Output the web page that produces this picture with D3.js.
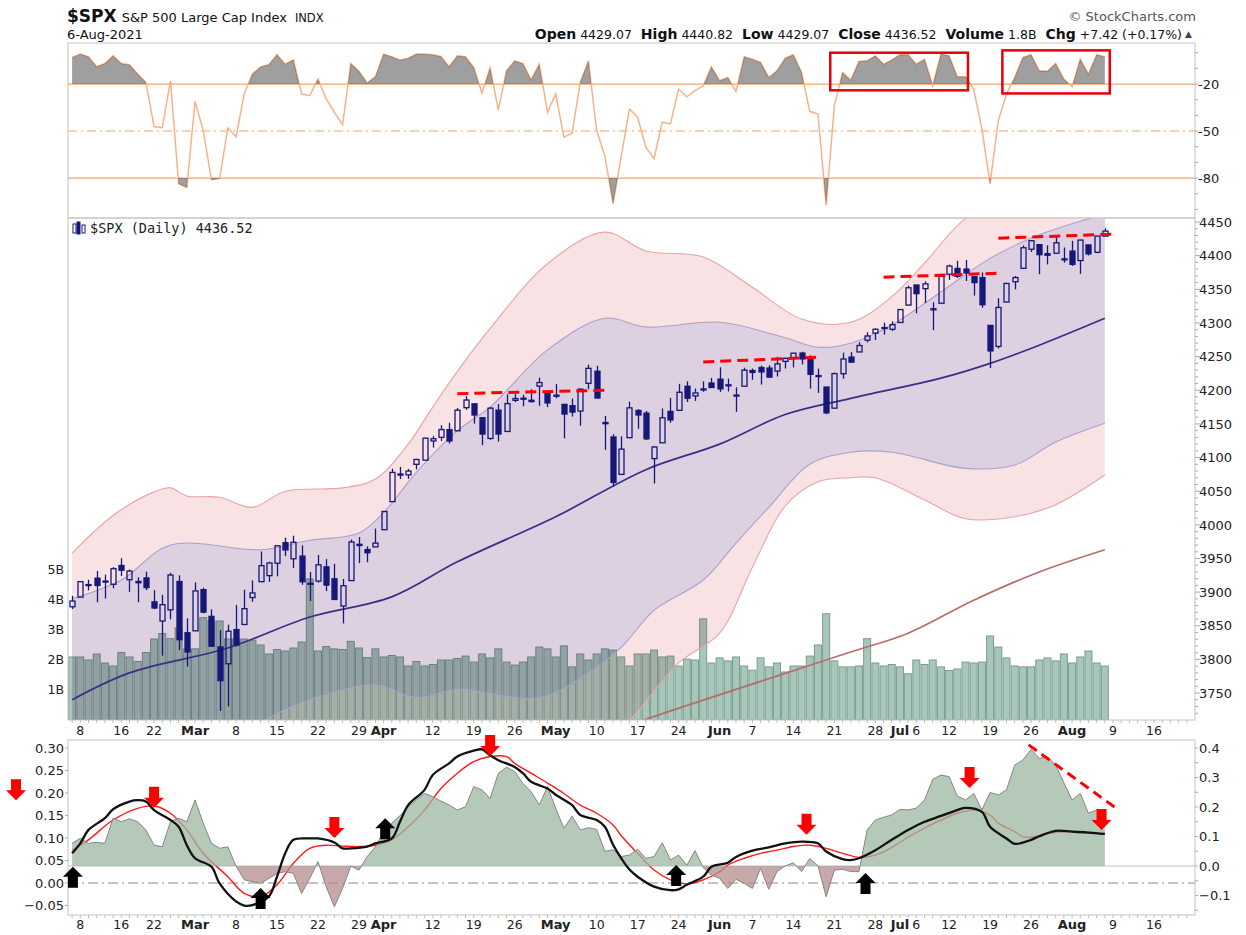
<!DOCTYPE html>
<html><head><meta charset="utf-8">
<script src="https://cdn.jsdelivr.net/npm/d3@7"></script>
<style>body{margin:0;background:#fff}svg{display:block}</style>
</head><body><svg id="c" width="1246" height="935"></svg>
<script>
// ---------------- DATA ----------------
const dates = [
"2021-02-05","2021-02-08","2021-02-09","2021-02-10","2021-02-11","2021-02-12","2021-02-16","2021-02-17","2021-02-18","2021-02-19","2021-02-22","2021-02-23","2021-02-24","2021-02-25","2021-02-26",
"2021-03-01","2021-03-02","2021-03-03","2021-03-04","2021-03-05","2021-03-08","2021-03-09","2021-03-10","2021-03-11","2021-03-12","2021-03-15","2021-03-16","2021-03-17","2021-03-18","2021-03-19","2021-03-22","2021-03-23","2021-03-24","2021-03-25","2021-03-26","2021-03-29","2021-03-30","2021-03-31",
"2021-04-01","2021-04-05","2021-04-06","2021-04-07","2021-04-08","2021-04-09","2021-04-12","2021-04-13","2021-04-14","2021-04-15","2021-04-16","2021-04-19","2021-04-20","2021-04-21","2021-04-22","2021-04-23","2021-04-26","2021-04-27","2021-04-28","2021-04-29","2021-04-30",
"2021-05-03","2021-05-04","2021-05-05","2021-05-06","2021-05-07","2021-05-10","2021-05-11","2021-05-12","2021-05-13","2021-05-14","2021-05-17","2021-05-18","2021-05-19","2021-05-20","2021-05-21","2021-05-24","2021-05-25","2021-05-26","2021-05-27","2021-05-28",
"2021-06-01","2021-06-02","2021-06-03","2021-06-04","2021-06-07","2021-06-08","2021-06-09","2021-06-10","2021-06-11","2021-06-14","2021-06-15","2021-06-16","2021-06-17","2021-06-18","2021-06-21","2021-06-22","2021-06-23","2021-06-24","2021-06-25","2021-06-28","2021-06-29","2021-06-30",
"2021-07-01","2021-07-02","2021-07-06","2021-07-07","2021-07-08","2021-07-09","2021-07-12","2021-07-13","2021-07-14","2021-07-15","2021-07-16","2021-07-19","2021-07-20","2021-07-21","2021-07-22","2021-07-23","2021-07-26","2021-07-27","2021-07-28","2021-07-29","2021-07-30",
"2021-08-02","2021-08-03","2021-08-04","2021-08-05","2021-08-06"];
const futureDates = ["2021-08-09","2021-08-10","2021-08-11","2021-08-12","2021-08-13","2021-08-16","2021-08-17","2021-08-18","2021-08-19","2021-08-20"];

const openP = [3878.30,3892.59,3910.49,3920.78,3916.40,3911.65,3939.61,3918.50,3915.86,3921.16,3885.55,3857.07,3873.71,3915.80,3839.66,
3842.51,3903.64,3863.99,3818.53,3793.58,3844.39,3851.93,3891.99,3915.54,3924.52,3942.96,3973.59,3949.57,3953.50,3913.14,3916.48,3937.60,3919.93,3879.34,3917.12,3969.31,3963.34,3967.25,
3992.78,4034.44,4075.57,4074.29,4089.95,4096.11,4124.71,4130.10,4141.58,4139.76,4174.14,4179.80,4159.18,4128.42,4170.46,4138.78,4185.03,4188.25,4185.14,4206.14,4198.10,
4191.98,4179.04,4177.06,4169.14,4210.34,4228.29,4150.34,4130.55,4074.99,4129.58,4169.92,4165.94,4098.45,4121.97,4168.61,4170.16,4205.94,4191.59,4201.94,4210.77,
4216.52,4206.82,4191.43,4206.05,4229.34,4233.81,4232.99,4228.56,4242.90,4248.31,4255.28,4248.87,4220.37,4204.78,4173.40,4224.61,4249.27,4256.97,4274.45,4284.90,4293.21,4290.65,
4300.73,4326.60,4356.46,4351.01,4321.07,4329.38,4372.41,4381.07,4380.11,4369.02,4367.43,4296.40,4265.11,4331.13,4361.27,4381.20,4409.58,4416.38,4402.95,4403.59,4395.12,
4406.86,4392.74,4415.95,4405.03,4429.07];
const highP = [3894.56,3915.77,3918.35,3931.50,3925.99,3937.23,3950.43,3933.61,3921.98,3930.41,3902.92,3895.98,3928.65,3925.02,3861.08,
3914.50,3906.41,3874.47,3843.67,3851.69,3881.06,3903.76,3917.35,3960.27,3944.99,3970.08,3981.04,3983.87,3969.62,3930.12,3955.31,3949.13,3942.08,3919.54,3978.19,3981.83,3968.01,3994.41,
4020.63,4083.42,4086.23,4083.13,4098.19,4129.48,4131.76,4148.00,4151.69,4173.49,4191.31,4180.81,4159.18,4175.02,4179.57,4194.17,4194.19,4193.35,4201.53,4218.78,4198.10,
4209.39,4179.04,4187.72,4202.70,4238.04,4236.39,4162.04,4134.73,4131.58,4183.13,4171.92,4169.15,4116.93,4172.80,4188.72,4209.52,4213.42,4202.61,4213.38,4218.36,
4234.12,4217.37,4204.39,4233.45,4232.34,4236.74,4237.09,4249.74,4248.38,4255.59,4257.16,4251.89,4232.29,4204.78,4226.24,4255.84,4256.60,4271.28,4286.12,4292.14,4300.52,4302.43,
4320.66,4355.43,4356.46,4361.88,4330.88,4371.60,4386.68,4392.37,4393.68,4369.02,4375.09,4296.40,4336.84,4359.70,4369.87,4415.18,4422.73,4416.38,4415.47,4429.97,4412.25,
4422.18,4423.79,4416.17,4429.10,4440.82];
const lowP = [3874.93,3892.59,3902.64,3884.94,3890.39,3905.78,3923.85,3900.43,3885.03,3903.07,3874.71,3805.59,3859.60,3814.04,3789.54,
3842.51,3868.57,3818.86,3723.34,3730.19,3819.25,3851.93,3885.73,3915.54,3915.21,3923.54,3953.44,3935.74,3910.86,3886.75,3914.16,3901.57,3889.07,3853.50,3917.12,3943.25,3944.35,3966.98,
3992.78,4034.44,4068.14,4068.31,4082.54,4095.51,4114.82,4124.43,4120.87,4139.76,4170.75,4150.47,4118.38,4126.35,4123.69,4138.78,4182.36,4176.22,4181.78,4176.81,4174.85,
4188.03,4128.59,4160.94,4147.33,4201.64,4188.13,4111.53,4056.88,4074.99,4129.58,4142.69,4125.99,4061.41,4121.97,4151.72,4170.16,4182.52,4184.11,4197.78,4203.57,
4197.59,4198.27,4167.93,4206.05,4215.66,4208.41,4218.74,4220.34,4232.25,4234.07,4238.35,4202.45,4196.05,4164.40,4173.40,4217.27,4241.43,4256.97,4271.16,4274.67,4282.68,4287.96,
4300.73,4326.60,4314.37,4329.79,4289.37,4329.38,4364.03,4366.92,4362.36,4340.70,4322.53,4233.13,4262.05,4331.13,4350.06,4381.20,4405.45,4372.51,4387.01,4403.59,4389.65,
4384.81,4373.00,4400.23,4403.59,4429.07];
const closeP = [3886.83,3915.59,3911.23,3909.88,3916.38,3934.83,3932.59,3931.33,3913.97,3906.71,3876.50,3881.37,3925.43,3829.34,3811.15,
3901.82,3870.29,3819.72,3768.47,3841.94,3821.35,3875.44,3898.81,3939.34,3943.34,3968.94,3962.71,3974.12,3915.46,3913.10,3940.59,3910.52,3889.14,3909.52,3974.54,3971.09,3958.55,3972.89,
4019.87,4077.91,4073.94,4079.95,4097.17,4128.80,4127.99,4141.59,4124.66,4170.42,4185.47,4163.26,4134.94,4173.42,4134.98,4180.17,4187.62,4186.72,4183.18,4211.47,4181.17,
4192.66,4164.66,4167.59,4201.62,4232.60,4188.43,4152.10,4063.04,4112.50,4173.85,4163.29,4127.83,4115.68,4159.12,4155.86,4197.05,4188.13,4195.99,4200.88,4204.11,
4202.04,4208.12,4192.85,4229.89,4226.52,4227.26,4219.55,4239.18,4247.44,4255.15,4246.59,4223.70,4221.86,4166.45,4224.79,4246.44,4241.84,4266.49,4280.70,4290.61,4291.80,4297.50,
4319.94,4352.34,4343.54,4358.13,4320.82,4369.55,4384.63,4369.21,4374.30,4360.03,4327.16,4258.49,4323.06,4358.69,4367.48,4411.79,4422.30,4401.46,4400.64,4419.15,4395.26,
4387.16,4423.15,4402.66,4429.10,4436.52];
// volume, billions
const volume = [2.1,2.1,2.0,2.2,1.9,1.8,2.25,2.1,1.95,2.25,2.7,2.88,2.71,3.07,2.37,2.37,3.41,3.3,3.3,2.7,2.7,2.7,2.66,2.5,2.2,2.35,2.3,2.4,2.6,4.7,2.3,2.45,2.37,2.35,2.62,2.4,2.08,2.37,2.1,2.15,2.1,1.8,1.95,1.8,1.85,2.0,2.0,2.05,
2.13,1.93,2.2,2.07,2.37,1.93,1.83,1.93,2.1,2.43,2.37,2.1,2.47,1.77,2.2,2.0,2.2,2.37,2.33,2.1,1.8,2.2,2.2,2.33,2.1,2.13,1.8,2.03,2.0,3.37,1.9,2.07,1.97,2.1,1.8,1.66,2.07,1.77,1.9,1.6,1.8,1.8,2.13,2.5,3.54,1.97,1.77,
1.77,1.8,2.71,1.9,1.8,1.85,1.77,1.54,2.0,1.85,2.0,1.77,1.65,1.7,1.93,1.9,1.93,2.8,2.43,2.07,1.8,1.77,1.77,2.0,2.07,1.97,2.2,1.9,2.1,2.3,1.9,1.8];
// Williams %R
const willR = [-3.0,-0.9,-2.6,-9.0,-6.9,-2.0,-6.9,-7.7,-13.6,-18.9,-47.1,-47.9,-17.9,-83.6,-86.1,-31.0,-49.7,-81.1,-80.4,-48.0,-53.8,-26.4,-13.6,-9.0,-7.7,-1.3,-7.3,-4.5,-26.4,-27.4,-16.8,-29.5,-38.0,-46.1,-6.9,-11.9,-19.4,-15.3,-0.9,-2.6,-4.7,-3.5,-0.9,-0.9,-1.3,-2.4,-9.0,-2.0,-2.6,-9.4,-25.7,-9.8,-36.5,-11.5,-5.2,-6.9,-17.2,-7.3,-38.0,-26.4,-53.9,-51.4,-18.9,-5.2,-49.7,
-66,-96.5,-66,-35.9,-41.2,-60.3,-67.7,-44.4,-45.4,-23.2,-28.1,-24.2,-21.1,-9.0,-17.9,-15.8,-24.7,-2.6,-4.1,-6.2,-15.8,-11.5,-3.5,-1.3,-12.6,-37.4,-39.1,-97.4,-33.8,-12.6,-17.5,-5.6,-5.2,-2.0,-7.3,-4.7,-1.3,-1.3,-7.3,-4.1,-21.1,-0.9,-2.0,-15.3,-15.3,-23.2,-48.6,-83.6,-43.3,-26.4,-15.8,-3.0,-1.3,-11.5,-11.9,-6.9,-16.8,-21.7,-4.1,-13.6,-1.3,-2.6];
// lower indicator histogram (right axis)
const histo = [0.077,0.094,0.077,0.08,0.077,0.162,0.15,0.16,0.15,0.122,0.071,0.065,0.15,0.162,0.15,0.224,0.145,0.077,0.06,0.065,0.0,-0.047,-0.053,-0.059,-0.042,-0.025,-0.019,-0.025,-0.093,-0.042,0.015,-0.07,-0.138,-0.076,0.0,-0.014,0.032,0.065,
0.116,0.145,0.17,0.2,0.224,0.246,0.235,0.22,0.207,0.19,0.201,0.269,0.258,0.229,0.314,0.335,0.32,0.28,0.252,0.207,0.269,0.196,0.128,0.169,0.122,0.13,0.124,0.05,0.055,
0.032,0.037,0.057,0.026,0.032,0.079,0.02,0.037,0.003,0.052,-0.005,-0.031,-0.042,-0.076,-0.045,-0.059,-0.076,-0.008,-0.079,-0.019,0.0,0.011,-0.019,0.026,0.0,-0.104,-0.014,-0.011,-0.019,-0.019,
0.122,0.156,0.165,0.173,0.192,0.19,0.196,0.224,0.294,0.308,0.303,0.237,0.224,0.246,0.19,0.249,0.241,0.258,0.342,0.359,0.395,0.365,0.37,0.342,0.282,0.224,0.246,0.179,0.19,0.19];
// lower indicator lines (left axis): [trading-day number, value]
const blackLine = [[0,0.066],[1,0.088],[2,0.118],[4,0.144],[5,0.164],[7,0.181],[8,0.184],[9,0.181],[10,0.162],[12,0.14],[13,0.125],[14,0.084],[15,0.055],[17,0.036],[18,-0.001],[20,-0.041],[21,-0.05],[22,-0.049],[24,-0.03],[25,0.014],[26,0.066],[27,0.096],[29,0.099],[30,0.099],[32,0.09],[33,0.077],[34,0.077],[36,0.081],[37,0.088],[39,0.099],[40,0.136],[41,0.173],[43,0.207],[44,0.24],[46,0.266],[47,0.281],[49,0.294],[50,0.297],[51,0.284],[52,0.273],[54,0.258],[55,0.244],[56,0.225],[58,0.21],[59,0.196],[61,0.173],[62,0.151],[64,0.14],[65,0.125],[66,0.085],[67,0.055],[68,0.03],[69,0.014],[71,-0.008],[73,-0.016],[74,-0.014],[75,-0.004],[77,0.014],[78,0.036],[80,0.045],[81,0.058],[83,0.072],[85,0.079],[87,0.088],[89,0.092],[91,0.088],[92,0.07],[94,0.053],[95,0.051],[96,0.055],[98,0.073],[100,0.096],[102,0.118],[104,0.136],[106,0.149],[108,0.162],[109,0.167],[111,0.158],[112,0.125],[114,0.099],[115,0.087],[117,0.096],[118,0.104],[120,0.116],[122,0.114],[124,0.112],[126,0.109]];
const redLine = [[0,0.073],[2,0.096],[5,0.14],[8,0.166],[10,0.171],[12,0.155],[14,0.118],[16,0.066],[19,0.014],[21,-0.023],[23,-0.03],[25,-0.004],[27,0.044],[29,0.077],[31,0.084],[33,0.082],[35,0.081],[37,0.084],[39,0.096],[41,0.125],[43,0.162],[45,0.21],[47,0.244],[49,0.27],[51,0.281],[53,0.281],[54,0.266],[56,0.244],[58,0.222],[60,0.199],[62,0.173],[64,0.155],[66,0.129],[67,0.105],[69,0.066],[71,0.029],[73,0.007],[75,-0.002],[77,0.007],[79,0.025],[80,0.04],[82,0.055],[84,0.066],[86,0.073],[88,0.081],[90,0.084],[92,0.077],[94,0.066],[96,0.057],[98,0.062],[100,0.079],[102,0.102],[104,0.122],[106,0.14],[108,0.155],[110,0.162],[112,0.151],[113,0.133],[115,0.114],[116,0.103],[117,0.102],[119,0.11],[121,0.114],[125,0.112]];
// price overlays: [trading-day number, price]
const outerUpper = [[0,3958],[5,4014],[10,4049],[12,4055],[14,4043],[18,4041],[22,4026],[26,4050],[33,4055],[37,4068],[41,4120],[44,4175],[47,4228],[51,4292],[58,4388],[65,4435],[70,4407],[77,4398],[83,4353],[89,4306],[95,4301],[100,4339],[104,4389],[109,4455],[115,4490],[120,4515],[126,4540]];
const innerUpper = [[0,3890],[6,3918],[12,3970],[23,3963],[29,3977],[35,3988],[38,4018],[42,4078],[47,4140],[51,4175],[58,4260],[65,4307],[70,4294],[79,4301],[87,4278],[91,4264],[95,4270],[100,4297],[106,4346],[112,4396],[118,4431],[124,4455],[126,4462]];
const middle = [[0,3740],[7,3780],[19,3817],[29,3863],[39,3893],[47,3945],[59,4012],[70,4082],[79,4120],[87,4164],[95,4188],[106,4218],[112,4240],[118,4267],[126,4307]];
const innerLower = [[0,3592],[12,3614],[20,3680],[24,3713],[29,3740],[37,3762],[42,3743],[47,3755],[57,3743],[63,3780],[67,3818],[71,3873],[77,3918],[81,3973],[85,4026],[90,4090],[95,4108],[100,4108],[109,4084],[115,4089],[120,4123],[126,4151]];
const outerLower = [[0,3520],[20,3560],[37,3690],[47,3657],[58,3619],[63,3660],[68,3710],[74,3795],[79,3839],[83,3937],[87,4028],[91,4064],[95,4070],[98,4070],[104,4037],[109,4009],[115,4012],[120,4030],[126,4074]];
const ma200 = [[60,3667],[70,3711],[95,3811],[102,3839],[110,3888],[118,3930],[126,3963]];
const resistance = [[[47,4195],[65,4200]],[[77,4242],[91,4249]],[[99,4368],[113,4374]],[[113,4426],[127,4432]]];
// annotations
const wrBoxes = [[92.5,109.3,0,-24],[113.5,126.6,1.5,-26]];
const downArrows = [[10,0.167],[32,0.10],[51,0.282],[89.6,0.107],[109.5,0.211],[125.6,0.118]];
const upArrows = [[0.1,0.036],[23,-0.011],[38.2,0.144],[73.7,0.04],[96.8,0.022]];
const diagDash = [[116.7,0.307],[127.7,0.162]];
// axis ticks
const tickDates = ["2021-02-08","2021-02-16","2021-02-22","2021-03-01","2021-03-08","2021-03-15","2021-03-22","2021-03-29","2021-04-01","2021-04-12","2021-04-19","2021-04-26","2021-05-03","2021-05-10","2021-05-17","2021-05-24","2021-06-01","2021-06-07","2021-06-14","2021-06-21","2021-06-28","2021-07-01","2021-07-06","2021-07-12","2021-07-19","2021-07-26","2021-08-02","2021-08-09","2021-08-16"];
const tickLabels = ["8","16","22","Mar","8","15","22","29","Apr","12","19","26","May","10","17","24","Jun","7","14","21","28","Jul","6","12","19","26","Aug","9","16"];
const priceTicks = [4450,4400,4350,4300,4250,4200,4150,4100,4050,4000,3950,3900,3850,3800,3750];
const volTicks = [1,2,3,4,5];
const wrTicks = [-20,-50,-80];
const leftTicks = [0.30,0.25,0.20,0.15,0.10,0.05,0.00,-0.05];
const rightTicks = [0.4,0.3,0.2,0.1,0.0,-0.1];
const stats = [["Open","4429.07"],["High","4440.82"],["Low","4429.07"],["Close","4436.52"],["Volume","1.8B"],["Chg","+7.42 (+0.17%)"]];

// ---------------- CHART ----------------
const FONT = "'DejaVu Sans', sans-serif";
const svg = d3.select("#c").attr("font-family", FONT);
const allDates = dates.concat(futureDates);
const dayOf = d => allDates.indexOf(d);
const N = dates.length;
const PL = 68, PR = 1195;
const x = d3.scaleLinear().domain([-0.5, 137]).range([PL, PR]);
const yP = d3.scaleLinear().domain([3710, 4456]).range([720, 218]);
const yV = d3.scaleLinear().domain([0, 16.73]).range([720, 218]);
const yW = d3.scaleLinear().domain([-105.5, 6.2]).range([218, 43]);
const yL = d3.scaleLinear().domain([-0.0711, 0.3178]).range([915, 740]);
const yR = d3.scaleLinear().domain([-0.166, 0.427]).range([915, 740]);

svg.append("rect").attr("width",1246).attr("height",935).attr("fill","#fff");
const defs = svg.append("defs");
function clip(id, x0, y0, x1, y1){ defs.append("clipPath").attr("id",id).append("rect").attr("x",x0).attr("y",y0).attr("width",x1-x0).attr("height",y1-y0); }
clip("cTop", PL, 43, PR, 218);
clip("cMain", PL, 218, PR, 720);
clip("cBot", PL, 740, PR, 915);
clip("cAbove20", PL, 43, PR, yW(-20));
clip("cBelow80", PL, yW(-80), PR, 218);
clip("cPos", PL, 740, PR, yR(0));
clip("cNeg", PL, yR(0), PR, 915);

// ---- header
const hdr = svg.append("g").attr("fill","#111");
const t1 = hdr.append("text").attr("x",67).attr("y",22);
t1.append("tspan").attr("font-weight","bold").attr("font-size",17).text("$SPX");
t1.append("tspan").attr("font-size",13).attr("dx",5).text("S&P 500 Large Cap Index");
t1.append("tspan").attr("font-size",11.5).attr("dx",8).text("INDX");
hdr.append("text").attr("x",67).attr("y",39).attr("font-size",13).text("6-Aug-2021");
const t2 = hdr.append("text").attr("x",1182).attr("y",39).attr("text-anchor","end");
stats.forEach(([k,v],j)=>{
  t2.append("tspan").attr("font-weight","bold").attr("font-size",14).attr("dx", j?9:0).text(k);
  t2.append("tspan").attr("font-size",12.5).attr("dx",4).text(v);
});
hdr.append("text").attr("x",1185).attr("y",37).attr("font-size",9).attr("fill","#444").text("▲");
hdr.append("text").attr("x",1196).attr("y",21).attr("text-anchor","end").attr("font-size",13).attr("fill","#555").text("© StockCharts.com");

// ---- top panel (Williams %R)
const topG = svg.append("g");
topG.append("g").attr("clip-path","url(#cTop)").call(g=>{
  [-20,-80].forEach(v=>g.append("line").attr("x1",PL).attr("x2",PR).attr("y1",yW(v)).attr("y2",yW(v)).attr("stroke","#f6a468").attr("stroke-width",1.3));
  g.append("line").attr("x1",PL).attr("x2",PR).attr("y1",yW(-50)).attr("y2",yW(-50)).attr("stroke","#f6a468").attr("stroke-width",1.1).attr("stroke-dasharray","9,4,2,4");
  const ln = d3.line().x((d,i)=>x(i)).y(d=>yW(d));
  g.append("path").attr("d",ln(willR)).attr("fill","none").attr("stroke","#f9b288").attr("stroke-width",1.5);
  const a1 = d3.area().x((d,i)=>x(i)).y0(yW(-20)).y1(d=>yW(d));
  g.append("path").attr("d",a1(willR)).attr("clip-path","url(#cAbove20)").attr("fill","rgb(64,64,64)").attr("fill-opacity",0.5);
  const a2 = d3.area().x((d,i)=>x(i)).y0(yW(-80)).y1(d=>yW(d));
  g.append("path").attr("d",a2(willR)).attr("clip-path","url(#cBelow80)").attr("fill","rgb(64,64,64)").attr("fill-opacity",0.5);
});
wrBoxes.forEach(b=>topG.append("rect").attr("x",x(b[0])).attr("y",yW(b[2])).attr("width",x(b[1])-x(b[0])).attr("height",yW(b[3])-yW(b[2]))
  .attr("fill","none").attr("stroke","#e8000b").attr("stroke-width",2.5));
topG.append("rect").attr("x",PL).attr("y",43).attr("width",PR-PL).attr("height",175).attr("fill","none").attr("stroke","#c4c4c4");
wrTicks.forEach(v=>topG.append("text").attr("x",1198).attr("y",yW(v)).attr("dy","0.36em").attr("font-size",13).attr("fill","#222").text(v));
d3.range(-100,1,10).forEach(v=>topG.append("line").attr("x1",PR).attr("x2",PR+3).attr("y1",yW(v)).attr("y2",yW(v)).attr("stroke","#aaa"));

// ---- main panel
const mainG = svg.append("g");
const mg = mainG.append("g").attr("clip-path","url(#cMain)");
mg.append("g").selectAll("rect").data(volume).join("rect")
  .attr("x",(d,i)=>x(i)-3.5).attr("width",7).attr("y",d=>yV(d)).attr("height",d=>720-yV(d))
  .attr("fill","#a7c7bb").attr("stroke","#7d9d92").attr("stroke-width",1);
const bl = d3.line().x(d=>x(d[0])).y(d=>yP(d[1])).curve(d3.curveCatmullRom.alpha(0.5));
function band(up, lo){ return bl(up) + "L" + bl(lo.slice().reverse()).slice(1) + "Z"; }
mg.append("path").attr("d",band(outerUpper, outerLower)).attr("fill","#f8e2e4").style("mix-blend-mode","multiply");
mg.append("path").attr("d",band(innerUpper, innerLower)).attr("fill","#e4ebfc").style("mix-blend-mode","multiply");
[outerUpper, outerLower].forEach(s=>mg.append("path").attr("d",bl(s)).attr("fill","none").attr("stroke","#eaa2aa").attr("stroke-width",1.1));
[innerUpper, innerLower].forEach(s=>mg.append("path").attr("d",bl(s)).attr("fill","none").attr("stroke","#ab9fcd").attr("stroke-width",1.1));
mg.append("path").attr("d",bl(middle)).attr("fill","none").attr("stroke","#3d2c88").attr("stroke-width",1.7);
mg.append("path").attr("d",bl(ma200)).attr("fill","none").attr("stroke","#b86e68").attr("stroke-width",1.7);
const NAVY = "#17177a";
const cg = mg.append("g").attr("stroke",NAVY).attr("stroke-width",1.3);
d3.range(N).forEach(i=>{
  const o=openP[i], c=closeP[i], hi=highP[i], lo=lowP[i];
  const bt = yP(Math.max(o,c)), bb = yP(Math.min(o,c));
  const cx = Math.round(x(i)) + 0.5;
  cg.append("line").attr("x1",cx).attr("x2",cx).attr("y1",yP(hi)).attr("y2",bt);
  cg.append("line").attr("x1",cx).attr("x2",cx).attr("y1",bb).attr("y2",yP(lo));
  cg.append("rect").attr("x",cx-2.5).attr("width",5).attr("y",bt).attr("height",Math.max(1,bb-bt))
    .attr("fill", c<o ? NAVY : "none");
});
resistance.forEach(r=>mg.append("line").attr("x1",x(r[0][0])).attr("y1",yP(r[0][1])).attr("x2",x(r[1][0])).attr("y2",yP(r[1][1]))
  .attr("stroke","#f00").attr("stroke-width",3).attr("stroke-dasharray","11,6"));
mainG.append("rect").attr("x",PL).attr("y",218).attr("width",PR-PL).attr("height",502).attr("fill","none").attr("stroke","#c4c4c4");
[[73,224,9],[77,222,12],[82,225,8]].forEach(([a,b,h],k)=>{ mainG.append("rect").attr("x",a).attr("y",b).attr("width",3).attr("height",h).attr("fill",k==1?NAVY:"none").attr("stroke",NAVY).attr("stroke-width",1); });
mainG.append("text").attr("x",90).attr("y",233).attr("font-family","'DejaVu Sans Mono', monospace").attr("font-size",13.5).attr("fill","#222").text("$SPX (Daily) 4436.52");
priceTicks.forEach(p=>mainG.append("text").attr("x",1199).attr("y",yP(p)).attr("dy","0.36em").attr("font-size",13).attr("fill","#222").text(p));
d3.range(3720,4451,10).forEach(p=>mainG.append("line").attr("x1",PR).attr("x2",PR+(p%50===0?5:3)).attr("y1",yP(p)).attr("y2",yP(p)).attr("stroke","#aaa"));
volTicks.forEach(v=>mainG.append("text").attr("x",64).attr("y",yV(v)).attr("dy","0.36em").attr("text-anchor","end").attr("font-size",12.5).attr("fill","#222").text(v+"B"));

function xLabels(yb){
  tickDates.forEach((d,k)=>{
    const bold = isNaN(+tickLabels[k]);
    svg.append("text").attr("x",x(dayOf(d))).attr("y",yb).attr("text-anchor","middle").attr("font-size",bold?13:12.5)
      .attr("font-weight",bold?"bold":"normal").attr("fill","#222").text(tickLabels[k]);
  });
}
xLabels(735);
xLabels(929);
d3.range(allDates.length).forEach(i=>{
  [720,915].forEach(yb=>svg.append("line").attr("x1",x(i)).attr("x2",x(i)).attr("y1",yb).attr("y2",yb+3).attr("stroke","#bbb"));
});

// ---- bottom panel
const botG = svg.append("g");
const bg = botG.append("g").attr("clip-path","url(#cBot)");
bg.append("line").attr("x1",PL).attr("x2",PR).attr("y1",yR(0)).attr("y2",yR(0)).attr("stroke","#c2c2c2").attr("stroke-width",1.2);
bg.append("line").attr("x1",PL).attr("x2",PR).attr("y1",yL(0)).attr("y2",yL(0)).attr("stroke","#8a8a8a").attr("stroke-width",1.2).attr("stroke-dasharray","10,4,2,4");
const ll = d3.line().x(d=>x(d[0])).y(d=>yL(d[1])).curve(d3.curveCatmullRom.alpha(0.5));
bg.append("path").attr("d",ll(redLine)).attr("fill","none").attr("stroke","#ff1a1a").attr("stroke-width",1.4);
const ha = d3.area().x((d,i)=>x(i)).y0(yR(0)).y1(d=>yR(d));
bg.append("path").attr("d",ha(histo)).attr("clip-path","url(#cPos)").attr("fill","rgb(156,183,160)").attr("fill-opacity",0.75);
bg.append("path").attr("d",ha(histo)).attr("clip-path","url(#cNeg)").attr("fill","rgb(180,140,142)").attr("fill-opacity",0.75);
bg.append("path").attr("d",d3.line().x((d,i)=>x(i)).y(d=>yR(d))(histo)).attr("fill","none").attr("stroke","#858585").attr("stroke-width",1);
bg.append("path").attr("d",ll(blackLine)).attr("fill","none").attr("stroke","#111").attr("stroke-width",2.3);
function arrow(cx, tip, dir, col){
  const s = dir;
  const pts = [[0,0],[-10,-10*s],[-5,-10*s],[-5,-21*s],[5,-21*s],[5,-10*s],[10,-10*s]].map(p=>[cx+p[0], tip+p[1]]);
  svg.append("path").attr("d","M"+pts.join("L")+"Z").attr("fill",col);
}
downArrows.forEach(a=>arrow(x(a[0]), yL(a[1]), 1, "#f00"));
upArrows.forEach(a=>arrow(x(a[0]), yL(a[1]), -1, "#000"));
arrow(16, yL(0.184), 1, "#f00");
botG.append("line").attr("x1",x(diagDash[0][0])).attr("y1",yL(diagDash[0][1])).attr("x2",x(diagDash[1][0])).attr("y2",yL(diagDash[1][1]))
  .attr("stroke","#f00").attr("stroke-width",3).attr("stroke-dasharray","10,6");
botG.append("rect").attr("x",PL).attr("y",740).attr("width",PR-PL).attr("height",175).attr("fill","none").attr("stroke","#c4c4c4");
leftTicks.forEach(v=>botG.append("text").attr("x",64).attr("y",yL(v)).attr("dy","0.36em").attr("text-anchor","end").attr("font-size",13).attr("fill","#222").text(d3.format(".2f")(v)));
rightTicks.forEach(v=>botG.append("text").attr("x",1199).attr("y",yR(v)).attr("dy","0.36em").attr("font-size",13).attr("fill","#222").text(d3.format(".1f")(v)));
d3.range(-0.15,0.42,0.05).forEach(v=>botG.append("line").attr("x1",PR).attr("x2",PR+3).attr("y1",yR(v)).attr("y2",yR(v)).attr("stroke","#aaa"));
d3.range(-0.05,0.31,0.05).forEach(v=>botG.append("line").attr("x1",PL).attr("x2",PL-3).attr("y1",yL(v)).attr("y2",yL(v)).attr("stroke","#aaa"));
</script></body></html>
